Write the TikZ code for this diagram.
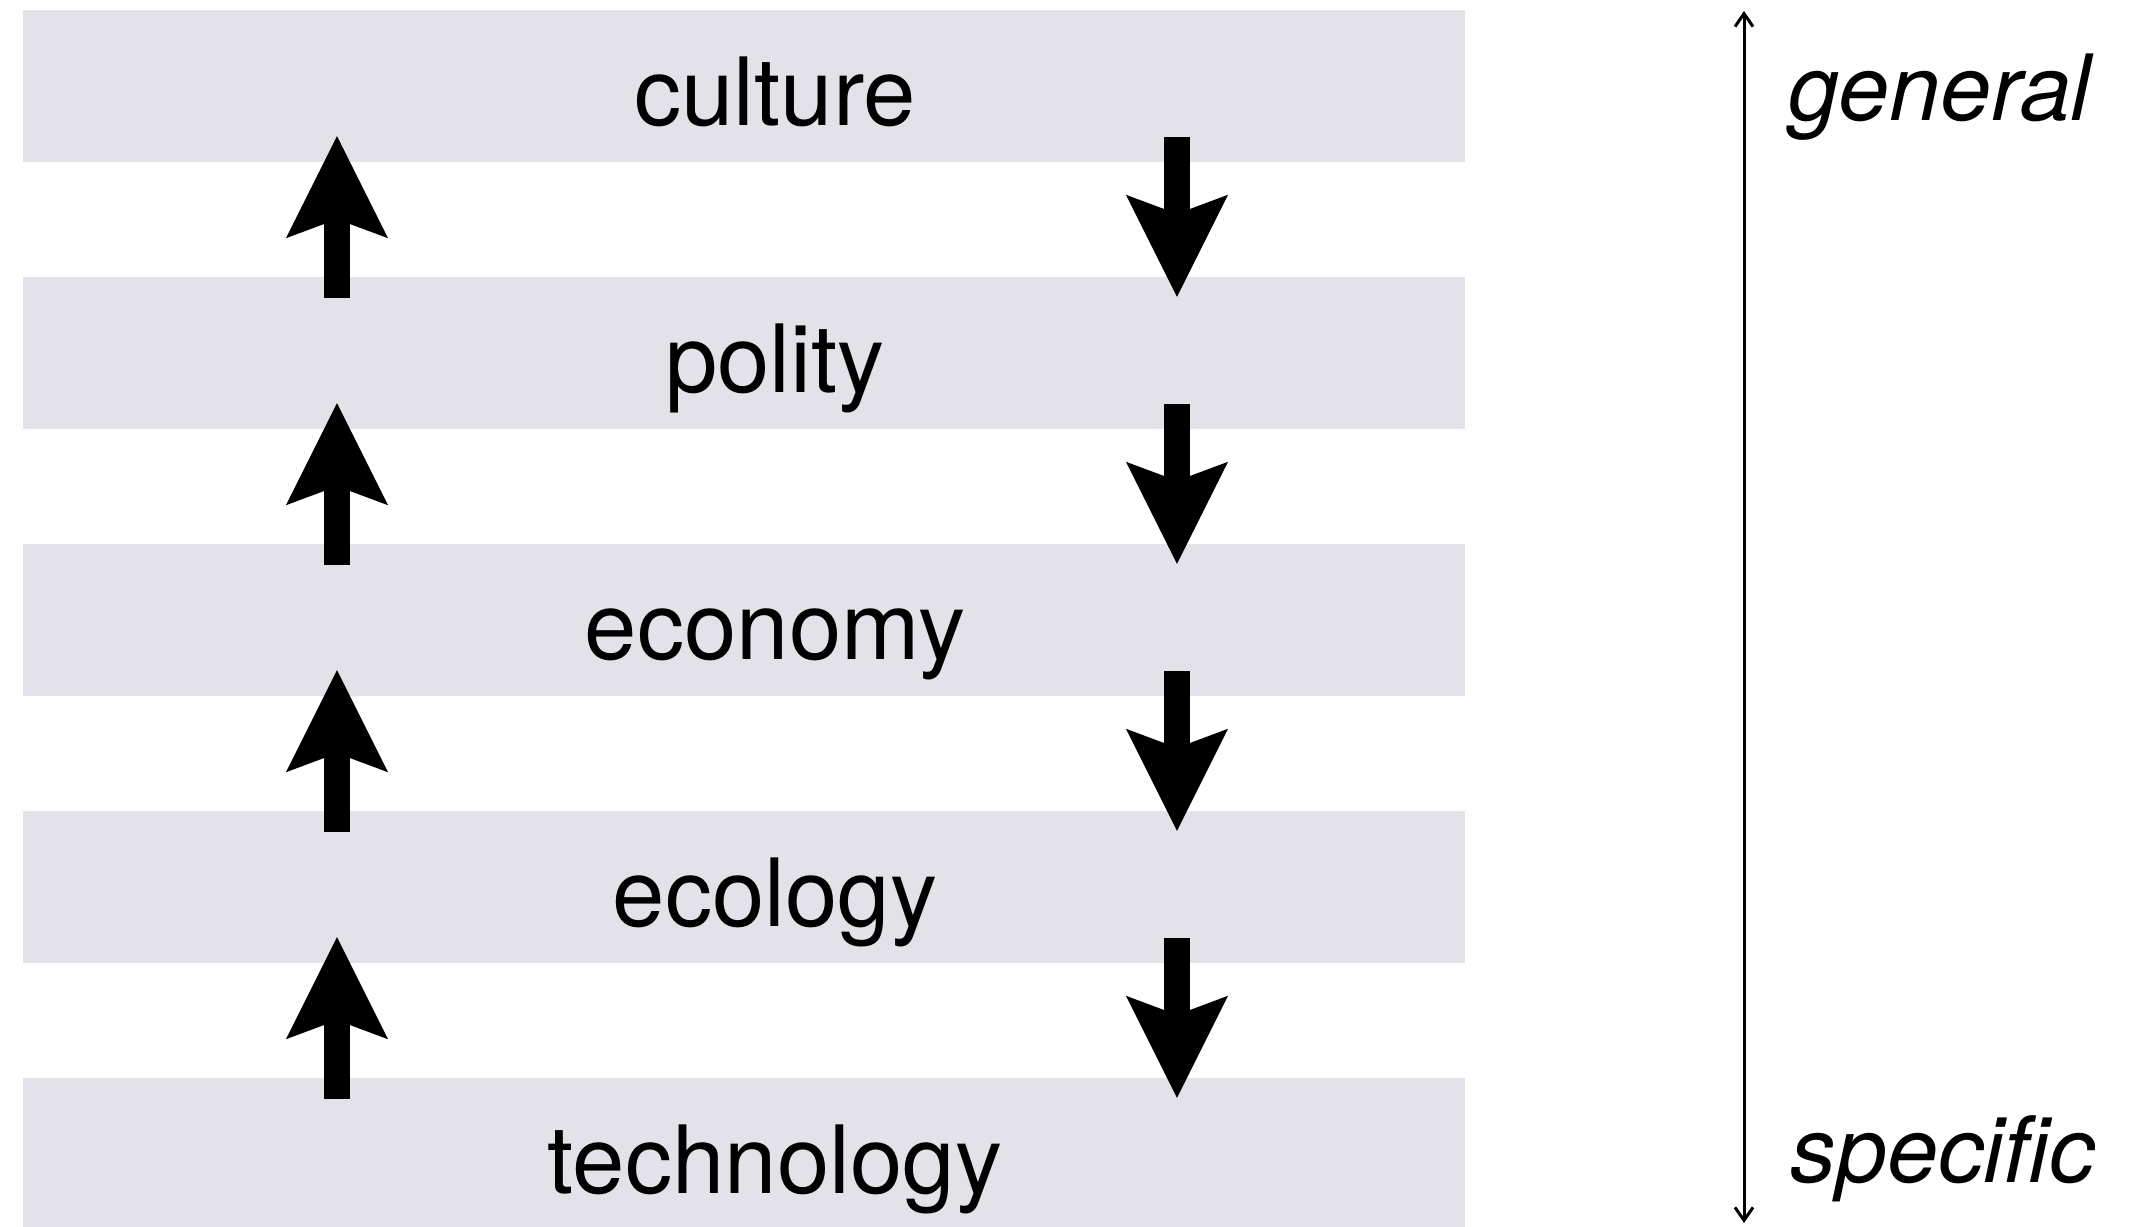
\documentclass[tikz,border=0pt]{standalone}
\usepackage{fontspec}
\setmainfont{TeX Gyre Heros}
\usepackage{tikz}
\usetikzlibrary{arrows.meta}
\definecolor{bandgrey}{RGB}{227,226,232}
\tikzstyle{band} = [rectangle, fill=bandgrey, inner sep=0pt,
minimum width=14.42cm, minimum height=1.52cm]
\tikzstyle{word} = [anchor=base, inner sep=0pt, font=\fontsize{26.8}{32}\selectfont]
\tikzstyle{side} = [anchor=base west, inner sep=0pt, font=\fontsize{26}{31}\selectfont\itshape]
\tikzstyle{line} = [draw, line width=0.265cm,
-{Stealth[length=1.02cm, width=1.02cm, inset=0.19cm, line width=0pt]}]
\tikzstyle{axis} = [draw, line width=0.03cm,
{Straight Barb[length=0.13cm, width=0.18cm]}-{Straight Barb[length=0.13cm, width=0.18cm]}]

\begin{document}
\begin{tikzpicture}[node distance = 2.67cm]
	\useasboundingbox (0,0) rectangle (21.38,-12.26);
	
	% Place bands
	\node [band] at (7.44,-0.855) 			(culture) 		{};
	\node [band, below of=culture] 			(polity) 		{};
	\node [band, below of=polity] 			(economy) 		{};
	\node [band, below of=economy] 			(ecology) 		{};
	\node [band, below of=ecology] 			(technology) 	{};
	
	% Band labels
	\node [word] at ([xshift=0.31cm, yshift=-0.40cm]culture.center) 	(culture text) 		{culture};
	\node [word] at ([xshift=0.31cm, yshift=-0.40cm]polity.center) 		(polity text) 		{polity};
	\node [word] at ([xshift=0.31cm, yshift=-0.40cm]economy.center) 	(economy text) 		{economy};
	\node [word] at ([xshift=0.31cm, yshift=-0.40cm]ecology.center) 	(ecology text) 		{ecology};
	\node [word] at ([xshift=0.31cm, yshift=-0.40cm]technology.center) 	(technology text) 	{technology};
	
	% Side scale
	\coordinate (top end) 		at (17.44,-0.11);
	\coordinate (bottom end) 	at (17.44,-12.23);
	\node [side] at (17.88,-1.20) 	(general) 	{general};
	\node [side] at (17.90,-11.82) 	(specific) 	{specific};
	
	%Draw edges
	\path [line] ([xshift=-4.07cm, yshift=-0.22cm]polity.north) 		-- ([xshift=-4.07cm, yshift=0.26cm]culture.south);
	\path [line] ([xshift=-4.07cm, yshift=-0.22cm]economy.north) 		-- ([xshift=-4.07cm, yshift=0.26cm]polity.south);
	\path [line] ([xshift=-4.07cm, yshift=-0.22cm]ecology.north) 		-- ([xshift=-4.07cm, yshift=0.26cm]economy.south);
	\path [line] ([xshift=-4.07cm, yshift=-0.22cm]technology.north) 	-- ([xshift=-4.07cm, yshift=0.26cm]ecology.south);
	\path [line] ([xshift=4.33cm, yshift=0.25cm]culture.south) 		-- ([xshift=4.33cm, yshift=-0.21cm]polity.north);
	\path [line] ([xshift=4.33cm, yshift=0.25cm]polity.south) 		-- ([xshift=4.33cm, yshift=-0.21cm]economy.north);
	\path [line] ([xshift=4.33cm, yshift=0.25cm]economy.south) 		-- ([xshift=4.33cm, yshift=-0.21cm]ecology.north);
	\path [line] ([xshift=4.33cm, yshift=0.25cm]ecology.south) 		-- ([xshift=4.33cm, yshift=-0.21cm]technology.north);
	\path [axis] (bottom end) -- (top end);
	
\end{tikzpicture}
\end{document}
